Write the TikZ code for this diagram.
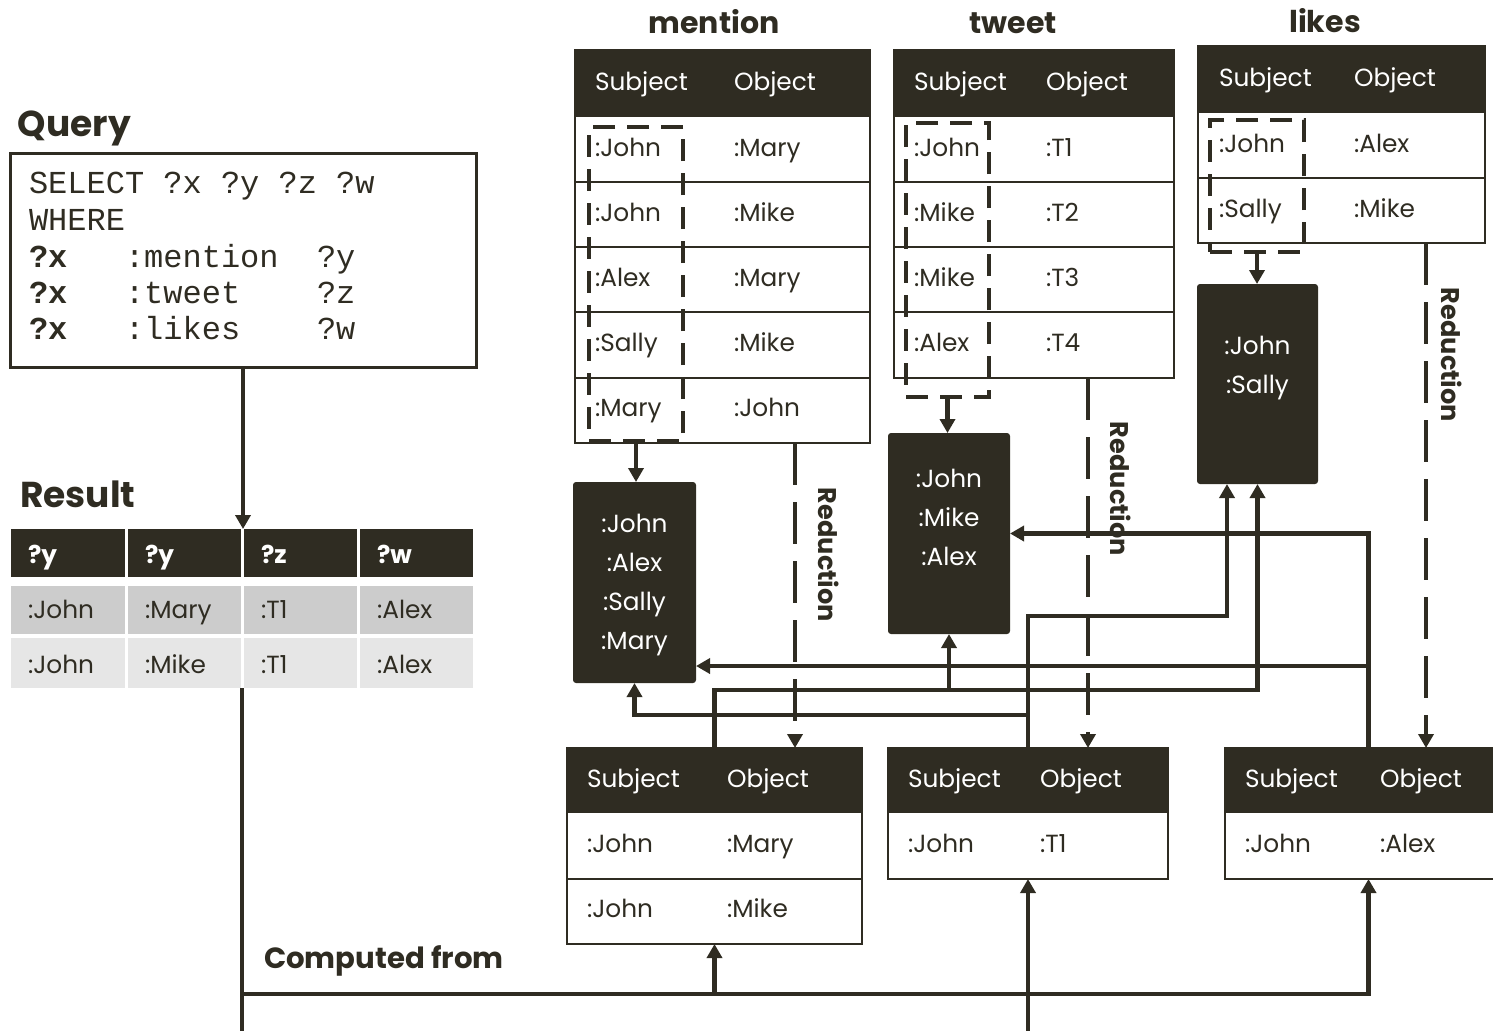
\documentclass[tikz,border=0pt]{standalone}
\usepackage{fontspec}
\setmainfont{Poppins}
\setmonofont{Liberation Mono}
\usetikzlibrary{arrows.meta,calc}

\definecolor{ink}{RGB}{47,44,34}
\definecolor{rowdark}{RGB}{204,204,204}
\definecolor{rowlight}{RGB}{230,230,230}

\begin{document}
\begin{tikzpicture}[x=0.5pt,y=-0.5pt,
  every node/.style={inner sep=0pt,outer sep=0pt},
  wire/.style={draw=ink,line width=2.2pt},
  feed/.style={wire,-{Triangle[length=7pt,width=7.5pt]}},
  reduce/.style={feed,dash pattern=on 21pt off 8.5pt},
  rule/.style={draw=ink,line width=0.8pt},
  pick/.style={draw=ink,line width=1.7pt,dash pattern=on 11pt off 6pt,anchor=north west},
  tablebox/.style={rule,fill=white,anchor=north west},
  redbox/.style={fill=ink,rounded corners=1.5pt,anchor=north west},
  relname/.style={font=\fontsize{15}{18}\selectfont\bfseries,text=ink,anchor=base},
  heading/.style={font=\fontsize{18}{22}\selectfont\bfseries,text=ink,anchor=base west},
  cell/.style={font=\fontsize{12.4}{15}\selectfont,text=ink,anchor=base west},
  head/.style={cell,text=white},
  boldhead/.style={head,font=\fontsize{12.4}{15}\selectfont\bfseries},
  members/.style={font=\fontsize{12.4}{19.5}\selectfont,text=white,align=center},
  code/.style={font=\fontsize{16}{19}\selectfont\ttfamily,text=ink,anchor=base west},
  sidenote/.style={font=\fontsize{12.8}{15}\selectfont\bfseries,text=ink,rotate=-90}
]
\useasboundingbox (0,0) rectangle (1493,1030);
\clip (0,0) rectangle (1493,1030);

% query
\node[heading] (qlabel) at (18,136) {Query};
\node[draw=ink,line width=1.5pt,minimum width=233pt,minimum height=107pt,anchor=north west] (query) at (10,153) {};
\node[code] (q1) at (29,193) {SELECT ?x ?y ?z ?w};
\node[code] (q2) at (29,230) {WHERE};
\node[code] (q3) at (29,267) {\textbf{?x}~~~:mention~~?y};
\node[code] (q4) at (29,303) {\textbf{?x}~~~:tweet~~~~?z};
\node[code] (q5) at (29,339) {\textbf{?x}~~~:likes~~~~?w};

% result
\node[heading] (rlabel) at (20,507) {Result};
\node[anchor=north west,minimum width=231pt,minimum height=79.5pt] (result) at (11,529) {};
\foreach \x/\w in {11/114,128/113,244/113,360/113} {
  \fill[ink] (\x,529) rectangle ++(\w,48);
  \fill[rowdark] (\x,586) rectangle ++(\w,48);
  \fill[rowlight] (\x,638) rectangle ++(\w,50);
}
\foreach \x/\v/\a/\b [count=\i] in {28/?y/John/John,145/?y/Mary/Mike,261/?z/T1/T1,377/?w/Alex/Alex} {
  \node[boldhead] (res-h\i) at (\x,563) {\v};
  \node[cell] (res-a\i) at (\x,618) {:\a};
  \node[cell] (res-b\i) at (\x,673) {:\b};
}
\draw[feed] (query.south) -- (query.south |- result.north);

% computed-from bus
\draw[wire] (result.south) -- ++(0,360);
\coordinate (bus) at (242,994);
\node[heading,font=\fontsize{14.6}{18}\selectfont\bfseries] (cfrom) at (264,968) {Computed from};

% mention
\node[relname] (mname) at (714,33) {mention};
\node[tablebox,minimum width=147.5pt,minimum height=196.5pt] (mtab) at (575,50) {};
\fill[ink] (575,50) rectangle (870,117);
\foreach \r in {182,247,312,378} \draw[rule] (575,\r) -- (870,\r);
\node[head] (mtab-s) at (595,90) {Subject};
\node[head] (mtab-o) at (734,90) {Object};
\foreach \s/\o [count=\i] in {John/Mary,John/Mike,Alex/Mary,Sally/Mike,Mary/John} {
  \node[cell] (mtab-s\i) at (595,91+65*\i) {:\s};
  \node[cell] (mtab-o\i) at (734,91+65*\i) {:\o};
}
\node[pick,minimum width=47pt,minimum height=157pt] (mpick) at (589,127) {};

% tweet
\node[relname] (tname) at (1013,33) {tweet};
\node[tablebox,minimum width=140pt,minimum height=164pt] (ttab) at (894,50) {};
\fill[ink] (894,50) rectangle (1174,117);
\foreach \r in {182,247,312} \draw[rule] (894,\r) -- (1174,\r);
\node[head] (ttab-s) at (914,90) {Subject};
\node[head] (ttab-o) at (1046,90) {Object};
\foreach \s/\o [count=\i] in {John/T1,Mike/T2,Mike/T3,Alex/T4} {
  \node[cell] (ttab-s\i) at (914,91+65*\i) {:\s};
  \node[cell] (ttab-o\i) at (1046,91+65*\i) {:\o};
}
\node[pick,minimum width=41.5pt,minimum height=137pt] (tpick) at (906,123) {};

% likes
\node[relname] (lname) at (1325,32) {likes};
\node[tablebox,minimum width=143.5pt,minimum height=98.5pt] (ltab) at (1198,46) {};
\fill[ink] (1198,46) rectangle (1485,113);
\draw[rule] (1198,178) -- (1485,178);
\node[head] (ltab-s) at (1219,86) {Subject};
\node[head] (ltab-o) at (1354,86) {Object};
\foreach \s/\o [count=\i] in {John/Alex,Sally/Mike} {
  \node[cell] (ltab-s\i) at (1219,87+65*\i) {:\s};
  \node[cell] (ltab-o\i) at (1354,87+65*\i) {:\o};
}
\node[pick,minimum width=47pt,minimum height=66pt] (lpick) at (1210,120) {};

% reduced subject lists
\node[redbox,minimum width=61.5pt,minimum height=100.5pt] (mred) at (573,482) {};
\node[members] (mred-l) at (634.5,585) {:John\\:Alex\\:Sally\\:Mary};
\node[redbox,minimum width=61pt,minimum height=100.5pt] (tred) at (888,433) {};
\node[members] (tred-l) at (949,517) {:John\\:Mike\\:Alex};
\node[redbox,minimum width=60.5pt,minimum height=100pt] (lred) at (1197,284) {};
\node[members] (lred-l) at (1257.5,368) {:John\\:Sally};
\draw[feed] (mpick.south) -- (mpick.south |- mred.north);
\draw[feed] (tpick.south) -- (tpick.south |- tred.north);
\draw[feed] (lpick.south) -- (lpick.south |- lred.north);

% reduced tables
\node[tablebox,minimum width=147.5pt,minimum height=98pt] (mres) at (567,748) {};
\fill[ink] (567,748) rectangle (862,813);
\draw[rule] (567,879) -- (862,879);
\node[head] (mres-s) at (587,787) {Subject};
\node[head] (mres-o) at (727,787) {Object};
\foreach \s/\o [count=\i] in {John/Mary,John/Mike} {
  \node[cell] (mres-s\i) at (587,787+65*\i) {:\s};
  \node[cell] (mres-o\i) at (727,787+65*\i) {:\o};
}
\node[tablebox,minimum width=140pt,minimum height=65.5pt] (tres) at (888,748) {};
\fill[ink] (888,748) rectangle (1168,813);
\node[head] (tres-s) at (908,787) {Subject};
\node[head] (tres-o) at (1040,787) {Object};
\node[cell] (tres-s1) at (908,852) {:John};
\node[cell] (tres-o1) at (1040,852) {:T1};
\node[tablebox,minimum width=143.5pt,minimum height=65.5pt] (lres) at (1225,748) {};
\fill[ink] (1225,748) rectangle (1512,813);
\node[head] (lres-s) at (1245,787) {Subject};
\node[head] (lres-o) at (1380,787) {Object};
\node[cell] (lres-s1) at (1245,852) {:John};
\node[cell] (lres-o1) at (1380,852) {:Alex};

% reductions
\draw[reduce] (mtab.south -| 795,0) -- (mres.north -| 795,0);
\node[sidenote] (mnote) at (829,555) {Reduction};
\draw[reduce] (ttab.south -| 1088,0) -- (tres.north -| 1088,0);
\node[sidenote] (tnote) at (1121,489) {Reduction};
\draw[reduce] (ltab.south -| 1426,0) -- (lres.north -| 1426,0);
\node[sidenote] (lnote) at (1452,355) {Reduction};

% joins back into the subject lists
\coordinate (mfork) at (mres.north |- 0,690);
\draw[feed] (mres.north) -- (mfork) -| (lred.south);
\draw[feed] (mfork -| tred.south) -- (tred.south);
\coordinate (tfork) at (tres.north |- 0,616);
\draw[feed] (tres.north) -- (tfork) -| ($(lred.south)+(-30.5,0)$);
\draw[feed] (tres.north |- 0,715) -| (mred.south);
\draw[feed] (lres.north) |- (tred.east);
\draw[feed] (lres.north |- 0,666) -- (mred.east |- 0,666);

% computed from
\draw[feed] (bus) -| (mres.south);
\draw[feed] (bus) -| (lres.south);
\draw[feed] (tres.south |- 0,1040) -- (tres.south);
\end{tikzpicture}
\end{document}
